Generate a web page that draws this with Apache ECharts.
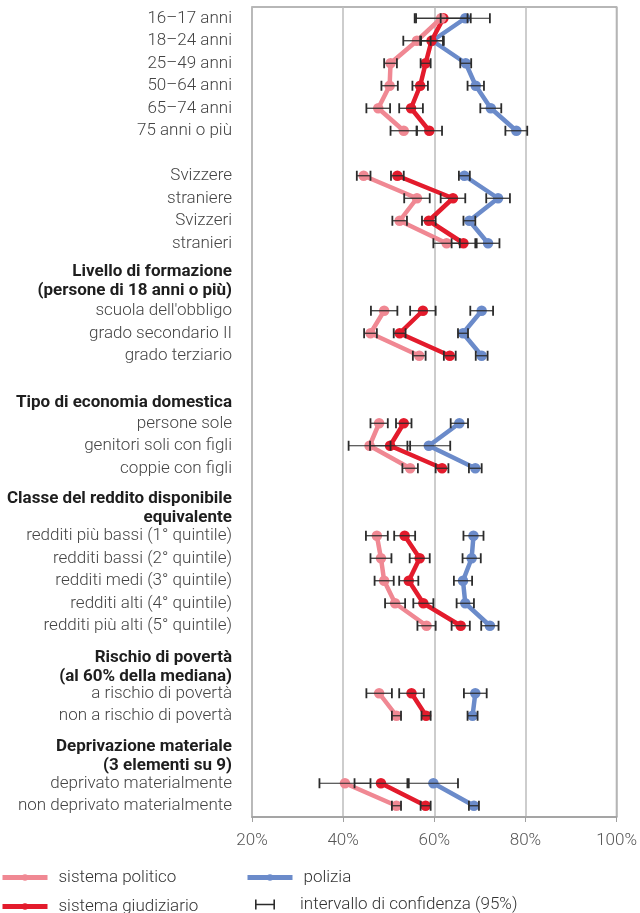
<!DOCTYPE html>
<html><head><meta charset="utf-8">
<script src="https://cdn.jsdelivr.net/npm/echarts@6/dist/echarts.min.js"></script>
<style>html,body{margin:0;padding:0;background:#fff}#c{width:640px;height:913px}</style>
</head><body><div id="c"></div>
<script>
const categories = [
  '16–17 anni','18–24 anni','25–49 anni','50–64 anni','65–74 anni','75 anni o più','',
  'Svizzere','straniere','Svizzeri','stranieri',
  'Livello di formazione','(persone di 18 anni o più)',
  "scuola dell'obbligo",'grado secondario II','grado terziario',' ',
  'Tipo di economia domestica','persone sole','genitori soli con figli','coppie con figli',
  'Classe del reddito disponibile','equivalente',
  'redditi più bassi (1° quintile)','redditi bassi (2° quintile)','redditi medi (3° quintile)','redditi alti (4° quintile)','redditi più alti (5° quintile)',
  'Rischio di povertà','(al 60% della mediana)','a rischio di povertà','non a rischio di povertà',
  'Deprivazione materiale','(3 elementi su 9)','deprivato materialmente','non deprivato materialmente'
];
// header rows (bold labels)
const headerRows = [11, 12, 17, 21, 22, 28, 29, 32, 33];

const N = null;
const politico =      [61.5,56.2,50.4,50.2,47.7,53.3,N, 44.5,56.2,52.4,62.7,N,N, 49.0,46.0,56.7,N,N, 47.9,45.8,54.7,N,N, 47.4,48.3,49.0,51.4,58.3,N,N, 47.9,51.7,N,N, 40.4,51.7];
const politicoCI =    [5.8, 3.0, 1.4, 1.8, 2.6, 2.9, N, 1.5, 2.8, 1.6, 2.9, N,N, 2.9, 1.4, 1.4, N,N, 1.9, 4.6, 1.7, N,N, 2.4, 2.3, 2.1, 2.2, 2.0, N,N, 2.8, 1.0, N,N, 5.6, 1.0];
const giudiziario =   [62.0,59.4,58.1,56.9,54.9,58.9,N, 51.9,64.1,58.8,66.4,N,N, 57.5,52.4,63.4,N,N, 53.3,50.3,61.7,N,N, 53.5,56.8,54.4,57.6,65.8,N,N, 55.0,58.2,N,N, 48.3,58.1];
const giudiziarioCI = [6.0, 2.5, 1.1, 1.7, 2.6, 2.8, N, 1.4, 2.7, 1.5, 2.6, N,N, 2.8, 1.3, 1.3, N,N, 1.7, 4.4, 1.4, N,N, 2.3, 2.2, 2.1, 2.2, 2.0, N,N, 2.7, 1.0, N,N, 5.8, 1.1];
const polizia =       [66.8,59.6,66.9,69.1,72.4,78.0,N, 66.6,74.0,67.7,71.8,N,N, 70.4,66.3,70.4,N,N, 65.5,58.8,69.0,N,N, 68.6,68.2,66.3,66.8,72.2,N,N, 69.0,68.4,N,N, 59.8,68.7];
const poliziaCI =     [5.4, 2.5, 1.2, 1.8, 2.3, 2.4, N, 1.2, 2.6, 1.3, 2.5, N,N, 2.5, 1.1, 1.3, N,N, 1.9, 4.7, 1.4, N,N, 2.2, 2.0, 2.0, 1.9, 1.9, N,N, 2.5, 1.1, N,N, 5.4, 1.1];
const xTicks = [20, 40, 60, 80, 100];

const names = ['sistema politico','polizia','sistema giudiziario','intervallo di confidenza (95%)'];
const colors = {pol:'#f08893', giu:'#e31b2c', blu:'#6b8bca'};

const ciData = [];
[[politico,politicoCI],[giudiziario,giudiziarioCI],[polizia,poliziaCI]].forEach(([v,c]) => {
  v.forEach((val, i) => { if (val !== null) ciData.push([val, c[i], i]); });
});

function renderCI(params, api) {
  const v = api.value(0), m = api.value(1), idx = api.value(2);
  const p1 = api.coord([v - m, idx]);
  const p2 = api.coord([v + m, idx]);
  const h = 5;
  return {type:'group', children:[
    {type:'line', shape:{x1:p1[0], y1:p1[1], x2:p2[0], y2:p2[1]}, style:{stroke:'#2b2b2b', lineWidth:1.2}},
    {type:'line', shape:{x1:p1[0], y1:p1[1]-h, x2:p1[0], y2:p1[1]+h}, style:{stroke:'#2b2b2b', lineWidth:1.8}},
    {type:'line', shape:{x1:p2[0], y1:p2[1]-h, x2:p2[0], y2:p2[1]+h}, style:{stroke:'#2b2b2b', lineWidth:1.8}}
  ]};
}

function lineSeries(name, data, color, z) {
  return {
    name, type:'line', data, z,
    symbol:'circle', symbolSize:10.5, connectNulls:false,
    lineStyle:{color, width:4.5}, itemStyle:{color},
    emphasis:{disabled:true}, animation:false
  };
}

const FONT = 'Roboto';
const FS = 17;
const legendBase = {
  orient:'horizontal', itemWidth:45, itemHeight:8, padding:0,
  lineStyle:{width:5},
  textStyle:{fontFamily:FONT, fontSize:FS, fontWeight:300, color:'#333', padding:[0,0,0,6]},
  selectedMode:false
};

// vertical shift (as top padding) of header lines
const shiftPad = {11:11, 12:4, 17:4, 21:15, 22:8, 28:19, 29:12, 32:16, 33:9};
const rich = {};
headerRows.forEach(i => {
  rich['h' + i] = {fontFamily:FONT, fontSize:FS, fontWeight:'bold', color:'#1e1e1e', padding:[shiftPad[i],0,0,0]};
});

const chart = echarts.init(document.getElementById('c'), null, {renderer:'canvas'});
chart.setOption({
  animation:false,
  grid:{left:252, right:17.5, top:7, bottom:96, show:true, borderColor:'#a0a0a0', borderWidth:1.6, containLabel:false},
  legend:[
    Object.assign({}, legendBase, {data:[names[0]], left:0, top:869}),
    Object.assign({}, legendBase, {data:[names[1]], left:245, top:869}),
    Object.assign({}, legendBase, {data:[names[2]], left:0, top:898}),
    Object.assign({}, legendBase, {data:[{name:names[3], icon:'path://M0,0h1.6v10h-1.6z M1.6,4.3h16.8v1.4h-16.8z M18.4,0h1.6v10h-1.6z'}],
      left:255, top:896, itemWidth:20, itemHeight:12,
      textStyle:{fontFamily:FONT, fontSize:FS, fontWeight:300, color:'#333', padding:[0,0,0,20]}})
  ],
  xAxis:{
    type:'value', min:xTicks[0], max:xTicks[xTicks.length-1], interval:20,
    axisLine:{show:true, lineStyle:{color:'#a0a0a0', width:1.6}},
    axisTick:{show:true, length:5, lineStyle:{color:'#a0a0a0'}},
    axisLabel:{formatter:'{value}%', fontFamily:FONT, fontSize:FS, fontWeight:300, color:'#555', margin:15},
    splitLine:{show:true, lineStyle:{color:'#bcbcbc', width:1.5}}
  },
  yAxis:{
    type:'category', inverse:true, data:categories,
    axisLine:{show:false}, axisTick:{show:false}, splitLine:{show:false},
    axisLabel:{
      interval:0, margin:20, fontFamily:FONT, fontSize:FS, fontWeight:300, color:'#444',
      formatter:(v, i) => headerRows.indexOf(i) >= 0 ? '{h' + i + '|' + v + '}' : v,
      rich
    }
  },
  series:[
    lineSeries(names[1], polizia, colors.blu, 2),
    lineSeries(names[2], giudiziario, colors.giu, 3),
    lineSeries(names[0], politico, colors.pol, 4),
    {name:names[3], type:'custom', renderItem:renderCI, data:ciData, encode:{x:0, y:2}, z:10,
     itemStyle:{color:'#2b2b2b'}, silent:true, animation:false}
  ]
});
</script></body></html>
